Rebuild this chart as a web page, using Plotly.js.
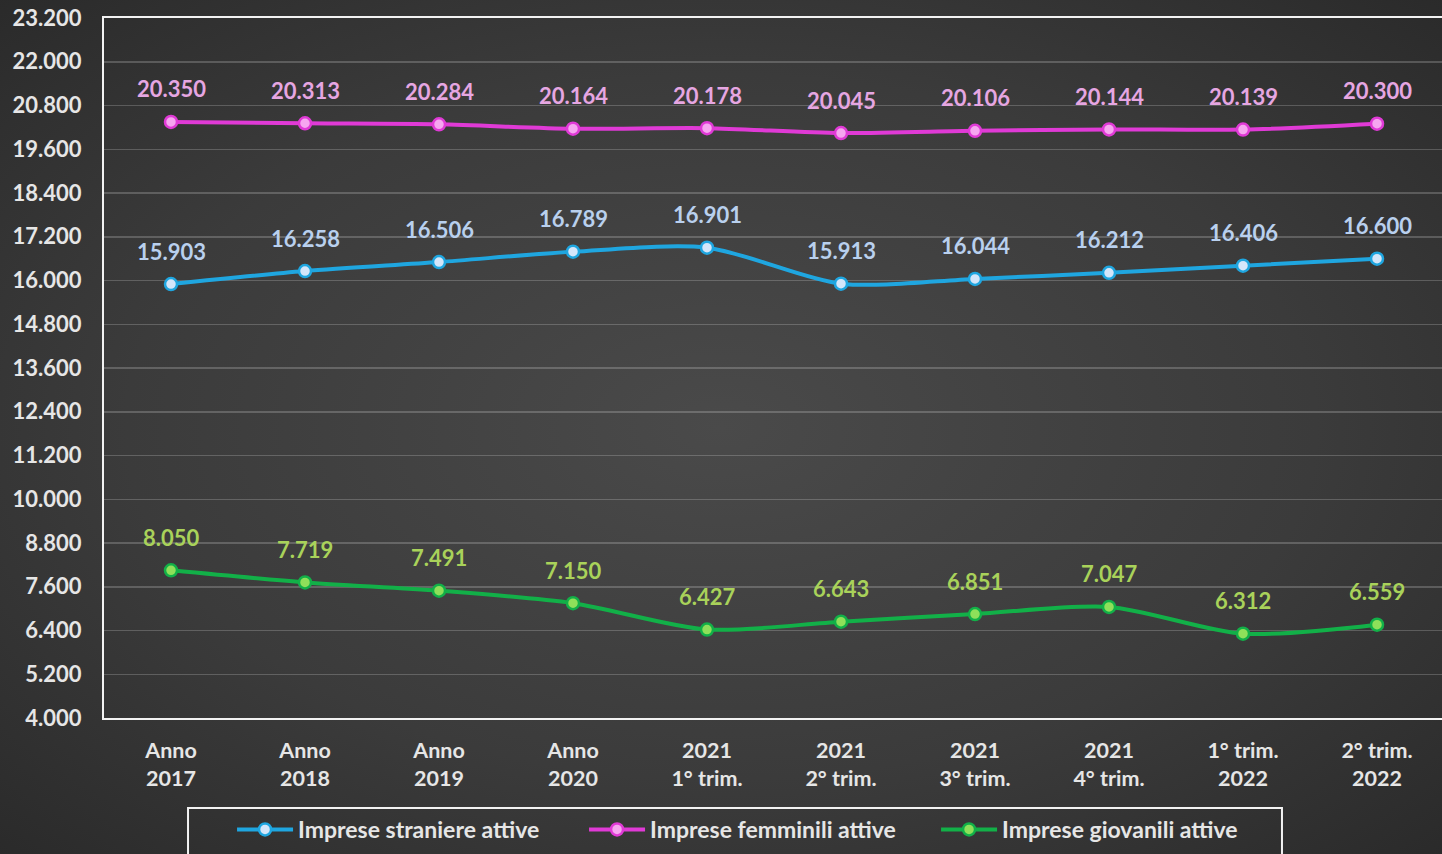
<!DOCTYPE html>
<html><head><meta charset="utf-8">
<script src="https://cdn.plot.ly/plotly-3.0.1.min.js"></script>
<style>
html,body{margin:0;padding:0;background:#2a2a2a;}
#chart{width:1442px;height:854px;background:radial-gradient(ellipse 75% 75% at 50% 50%, #4a4a4a 0%, #3b3b3b 55%, #282828 100%);}
</style>
</head><body><div id="chart"></div>
<script>
const categories = ["Anno<br>2017","Anno<br>2018","Anno<br>2019","Anno<br>2020","2021<br>1° trim.","2021<br>2° trim.","2021<br>3° trim.","2021<br>4° trim.","1° trim.<br>2022","2° trim.<br>2022"];
const straniere = [15903,16258,16506,16789,16901,15913,16044,16212,16406,16600];
const femminili = [20350,20313,20284,20164,20178,20045,20106,20144,20139,20300];
const giovanili = [8050,7719,7491,7150,6427,6643,6851,7047,6312,6559];
const seriesNames = ["Imprese straniere attive","Imprese femminili attive","Imprese giovanili attive"];

const FONT = "Lato, 'Open Sans', sans-serif";
function fmt(v){ return String(v).replace(/\B(?=(\d{3})+(?!\d))/g, '.'); }

const styles = [
  {line:'#1fa6e0', fill:'#d4e6fa', label:'#b9d0ee'},
  {line:'#e03ad6', fill:'#f6a6f0', label:'#e6a6e2'},
  {line:'#12b048', fill:'#8ee05a', label:'#a9d25a'}
];
const data = [straniere, femminili, giovanili];

const traces = data.map((vals,i)=>({
  type:'scatter', mode:'lines+markers', name:seriesNames[i],
  x:categories, y:vals,
  line:{color:styles[i].line, width:4, shape:'spline', smoothing:0.8},
  marker:{size:12, color:styles[i].fill, line:{color:styles[i].line, width:2.5}},
  hoverinfo:'skip'
}));

const annotations = [];
data.forEach((vals,i)=>{
  vals.forEach((v,j)=>{
    annotations.push({x:categories[j], y:v, xref:'x', yref:'y', text:fmt(v), showarrow:false,
      yanchor:'middle', xanchor:'center', yshift:33,
      font:{family:FONT, size:22, weight:'bold', color:styles[i].label}});
  });
});

const layout = {
  width:1442, height:854,
  paper_bgcolor:'rgba(0,0,0,0)', plot_bgcolor:'rgba(0,0,0,0)',
  separators:',.',
  margin:{l:104, r:0, t:18, b:136, pad:0},
  font:{family:FONT, size:21, weight:'bold', color:'#e6e6e6'},
  showlegend:true,
  xaxis:{type:'category', range:[-0.5, 9.485], showgrid:false, zeroline:false,
    showline:true, mirror:true, linecolor:'#f2f2f2', linewidth:2,
    ticks:'', ticklabelstandoff:12, tickfont:{family:FONT, size:21.5, weight:'bold', color:'#e6e6e6'}, fixedrange:true},
  yaxis:{range:[4000,23200], tick0:4000, dtick:1200, tickformat:',d',
    showgrid:true, gridcolor:'rgba(255,255,255,0.2)', gridwidth:1.5, zeroline:false,
    showline:true, linecolor:'#f2f2f2', linewidth:2, ticks:'', ticklabelstandoff:16,
    tickfont:{family:FONT, size:22, weight:'bold', color:'#e6e6e6'}, fixedrange:true},
  legend:{orientation:'h', x:0.0957, xanchor:'left', y:-0.1286, yanchor:'top',
    borderwidth:0, bgcolor:'rgba(0,0,0,0)', itemwidth:56,
    font:{family:FONT, size:23, weight:'bold', color:'#e6e6e6'}, entrywidth:281},
  shapes:[{type:'rect', xref:'paper', yref:'paper', x0:0.0628, x1:0.8804, y0:-0.1286, y1:-0.21,
    line:{color:'#f2f2f2', width:2}, fillcolor:'rgba(0,0,0,0)'}],
  annotations:annotations
};
Plotly.newPlot('chart', traces, layout, {displayModeBar:false, staticPlot:true});
</script>
</body></html>
